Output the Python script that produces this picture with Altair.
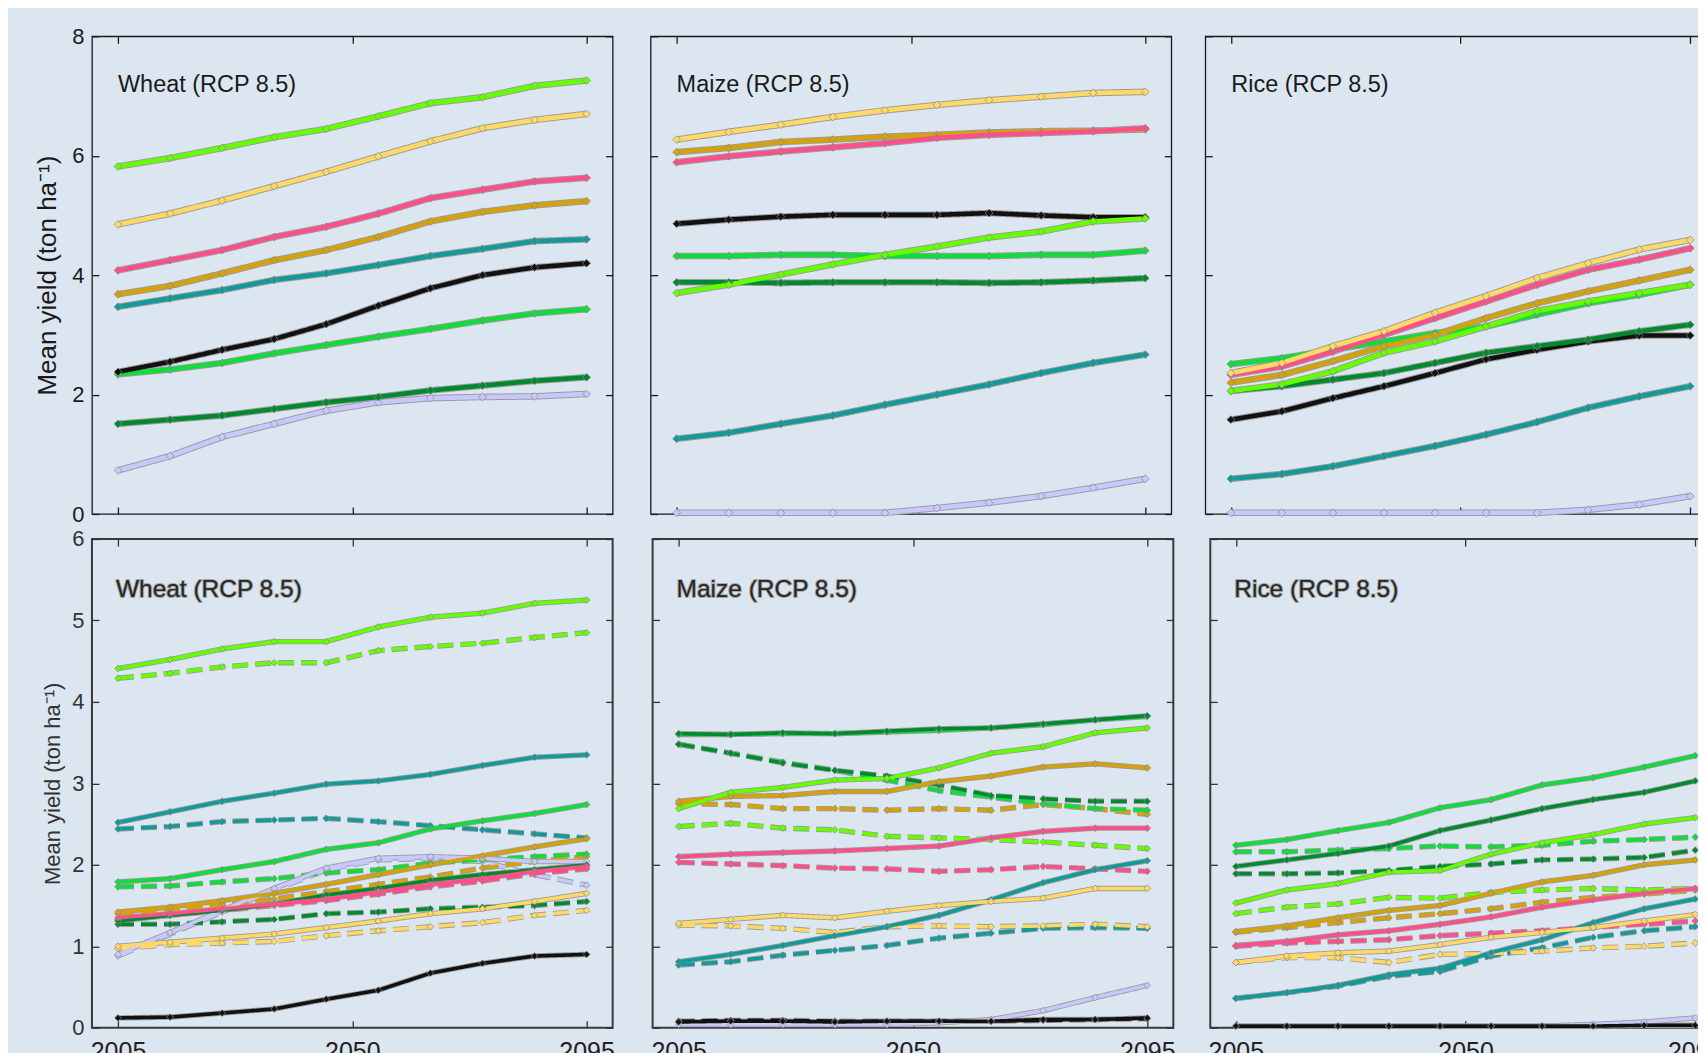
import altair as alt
import pandas as pd

FONT = "Liberation Sans"
BG = "#dbe6f0"

YEARS = [2005, 2015, 2025, 2035, 2045, 2055, 2065, 2075, 2085, 2095]
XTICKS = [2005, 2050, 2095]
YTICKS_TOP = [0, 2, 4, 6, 8]
YTICKS_BOTTOM = [0, 1, 2, 3, 4, 5, 6]
Y_TITLE = "Mean yield (ton ha⁻¹)"
PANEL_NAMES = ["Wheat (RCP 8.5)", "Maize (RCP 8.5)", "Rice (RCP 8.5)"]

COLORS = {
    "lime": "#66ff00",
    "yellow": "#ffd966",
    "pink": "#ff4f8b",
    "gold": "#d4a20c",
    "teal": "#129a9a",
    "black": "#111111",
    "green": "#10dc3c",
    "darkgreen": "#00892f",
    "lavender": "#c8c8ff",
}

# ---------------- top row (solid lines) ----------------
WHEAT_TOP = {
    "lavender": [0.73, 0.97, 1.29, 1.51, 1.73, 1.87, 1.94, 1.96, 1.97, 2.01],
    "darkgreen": [1.51, 1.58, 1.65, 1.76, 1.87, 1.96, 2.07, 2.15, 2.23, 2.29],
    "green": [2.34, 2.42, 2.53, 2.69, 2.83, 2.97, 3.10, 3.24, 3.36, 3.43],
    "black": [2.38, 2.55, 2.75, 2.93, 3.18, 3.49, 3.78, 4.00, 4.13, 4.20],
    "teal": [3.47, 3.61, 3.75, 3.92, 4.03, 4.17, 4.32, 4.44, 4.57, 4.60],
    "gold": [3.68, 3.82, 4.03, 4.25, 4.42, 4.64, 4.90, 5.06, 5.17, 5.24],
    "pink": [4.08, 4.25, 4.42, 4.64, 4.81, 5.03, 5.29, 5.43, 5.57, 5.63],
    "yellow": [4.85, 5.03, 5.25, 5.49, 5.73, 5.99, 6.24, 6.46, 6.60, 6.70],
    "lime": [5.82, 5.96, 6.13, 6.31, 6.45, 6.66, 6.88, 6.98, 7.17, 7.26],
}
MAIZE_TOP = {
    "lavender": [0.02, 0.02, 0.02, 0.02, 0.02, 0.10, 0.19, 0.30, 0.44, 0.59],
    "teal": [1.26, 1.36, 1.51, 1.65, 1.83, 2.00, 2.17, 2.36, 2.53, 2.67],
    "darkgreen": [3.88, 3.88, 3.87, 3.88, 3.88, 3.88, 3.87, 3.88, 3.91, 3.95],
    "green": [4.32, 4.32, 4.34, 4.34, 4.32, 4.32, 4.32, 4.34, 4.34, 4.41],
    "black": [4.86, 4.93, 4.98, 5.01, 5.01, 5.01, 5.04, 5.00, 4.97, 4.97],
    "lime": [3.70, 3.84, 4.01, 4.18, 4.34, 4.48, 4.63, 4.73, 4.90, 4.95],
    "gold": [6.06, 6.13, 6.23, 6.27, 6.32, 6.35, 6.39, 6.41, 6.42, 6.44],
    "pink": [5.89, 5.99, 6.07, 6.14, 6.21, 6.30, 6.35, 6.38, 6.41, 6.46],
    "yellow": [6.27, 6.40, 6.52, 6.65, 6.76, 6.85, 6.93, 6.99, 7.05, 7.07],
}
RICE_TOP = {
    "lavender": [0.02, 0.02, 0.02, 0.02, 0.02, 0.02, 0.02, 0.07, 0.16, 0.30],
    "teal": [0.59, 0.67, 0.80, 0.97, 1.14, 1.33, 1.54, 1.78, 1.97, 2.14],
    "black": [1.58, 1.72, 1.94, 2.14, 2.36, 2.59, 2.75, 2.89, 2.99, 2.99],
    "darkgreen": [2.06, 2.14, 2.25, 2.36, 2.53, 2.70, 2.81, 2.92, 3.06, 3.17],
    "green": [2.51, 2.61, 2.75, 2.89, 3.03, 3.14, 3.34, 3.53, 3.67, 3.84],
    "lime": [2.06, 2.17, 2.39, 2.70, 2.89, 3.14, 3.40, 3.56, 3.70, 3.84],
    "gold": [2.20, 2.33, 2.56, 2.81, 3.00, 3.28, 3.53, 3.73, 3.91, 4.09],
    "pink": [2.33, 2.47, 2.72, 3.00, 3.28, 3.56, 3.84, 4.09, 4.26, 4.45],
    "yellow": [2.36, 2.53, 2.81, 3.06, 3.37, 3.65, 3.95, 4.20, 4.43, 4.59],
}

# ---------------- bottom row (solid and dashed lines) ----------------
WHEAT_SOLID = {
    "lavender": [0.90, 1.17, 1.44, 1.71, 1.96, 2.08, 2.10, 2.08, 2.04, 2.04],
    "black": [0.12, 0.13, 0.18, 0.23, 0.35, 0.46, 0.67, 0.79, 0.88, 0.90],
    "yellow": [1.00, 1.05, 1.10, 1.15, 1.23, 1.31, 1.40, 1.46, 1.55, 1.65],
    "darkgreen": [1.31, 1.38, 1.44, 1.52, 1.63, 1.71, 1.81, 1.88, 1.94, 2.00],
    "pink": [1.35, 1.40, 1.46, 1.52, 1.58, 1.67, 1.76, 1.83, 1.92, 1.98],
    "gold": [1.42, 1.48, 1.56, 1.65, 1.76, 1.88, 2.00, 2.11, 2.22, 2.32],
    "green": [1.79, 1.83, 1.94, 2.04, 2.19, 2.27, 2.44, 2.54, 2.63, 2.74],
    "teal": [2.52, 2.65, 2.78, 2.88, 2.99, 3.03, 3.11, 3.22, 3.32, 3.35],
    "lime": [4.41, 4.52, 4.65, 4.74, 4.74, 4.92, 5.04, 5.09, 5.21, 5.25],
}
WHEAT_DASHED = {
    "lavender": [0.88, 1.15, 1.42, 1.69, 1.94, 2.06, 2.08, 2.04, 1.88, 1.75],
    "yellow": [0.97, 1.02, 1.04, 1.06, 1.13, 1.19, 1.24, 1.29, 1.38, 1.44],
    "darkgreen": [1.27, 1.27, 1.30, 1.33, 1.40, 1.42, 1.46, 1.48, 1.50, 1.55],
    "pink": [1.33, 1.38, 1.44, 1.50, 1.56, 1.64, 1.73, 1.80, 1.89, 1.95],
    "gold": [1.40, 1.45, 1.51, 1.58, 1.67, 1.76, 1.85, 1.96, 2.04, 2.10],
    "green": [1.73, 1.74, 1.79, 1.83, 1.90, 1.94, 2.02, 2.06, 2.10, 2.13],
    "teal": [2.44, 2.47, 2.53, 2.55, 2.57, 2.53, 2.48, 2.43, 2.38, 2.33],
    "lime": [4.29, 4.35, 4.43, 4.48, 4.48, 4.63, 4.68, 4.72, 4.79, 4.85],
}
MAIZE_SOLID = {
    "lavender": [0.04, 0.04, 0.04, 0.04, 0.04, 0.06, 0.10, 0.21, 0.37, 0.52],
    "black": [0.07, 0.08, 0.08, 0.07, 0.08, 0.08, 0.08, 0.10, 0.10, 0.12],
    "teal": [0.81, 0.90, 1.01, 1.13, 1.24, 1.38, 1.57, 1.78, 1.94, 2.05],
    "yellow": [1.28, 1.33, 1.38, 1.35, 1.43, 1.50, 1.55, 1.59, 1.71, 1.71],
    "pink": [2.10, 2.13, 2.15, 2.17, 2.20, 2.23, 2.33, 2.41, 2.45, 2.45],
    "gold": [2.78, 2.84, 2.85, 2.90, 2.90, 3.02, 3.09, 3.20, 3.24, 3.19],
    "lime": [2.69, 2.89, 2.95, 3.04, 3.06, 3.19, 3.37, 3.45, 3.62, 3.68],
    "green": [3.60, 3.60, 3.61, 3.61, 3.63, 3.65, 3.68, 3.72, 3.78, 3.82],
    "darkgreen": [3.61, 3.60, 3.62, 3.61, 3.64, 3.67, 3.68, 3.73, 3.78, 3.83],
}
MAIZE_DASHED = {
    "black": [0.08, 0.09, 0.09, 0.08, 0.08, 0.08, 0.08, 0.09, 0.10, 0.11],
    "teal": [0.77, 0.81, 0.89, 0.95, 1.01, 1.10, 1.16, 1.22, 1.23, 1.22],
    "yellow": [1.26, 1.25, 1.22, 1.17, 1.24, 1.25, 1.24, 1.25, 1.27, 1.24],
    "pink": [2.03, 2.01, 1.99, 1.96, 1.95, 1.92, 1.94, 1.98, 1.95, 1.92],
    "lime": [2.47, 2.51, 2.45, 2.43, 2.35, 2.33, 2.31, 2.28, 2.24, 2.20],
    "gold": [2.75, 2.74, 2.69, 2.69, 2.67, 2.69, 2.67, 2.74, 2.69, 2.62],
    "green": [3.48, 3.37, 3.26, 3.16, 3.04, 2.91, 2.83, 2.75, 2.69, 2.67],
    "darkgreen": [3.48, 3.37, 3.25, 3.16, 3.09, 2.98, 2.85, 2.81, 2.78, 2.78],
}
RICE_SOLID = {
    "lavender": [0.02, 0.02, 0.02, 0.02, 0.02, 0.02, 0.02, 0.04, 0.07, 0.12],
    "black": [0.02, 0.02, 0.02, 0.02, 0.02, 0.02, 0.02, 0.02, 0.03, 0.03],
    "teal": [0.36, 0.43, 0.52, 0.65, 0.73, 0.92, 1.08, 1.29, 1.46, 1.58],
    "yellow": [0.80, 0.88, 0.92, 0.94, 1.02, 1.11, 1.17, 1.23, 1.31, 1.39],
    "pink": [1.01, 1.06, 1.14, 1.19, 1.27, 1.36, 1.48, 1.57, 1.65, 1.71],
    "gold": [1.18, 1.25, 1.35, 1.44, 1.50, 1.65, 1.79, 1.87, 2.00, 2.06],
    "lime": [1.53, 1.69, 1.77, 1.91, 1.93, 2.13, 2.27, 2.37, 2.50, 2.58],
    "darkgreen": [1.98, 2.06, 2.14, 2.23, 2.42, 2.55, 2.69, 2.80, 2.89, 3.03],
    "green": [2.24, 2.31, 2.42, 2.52, 2.70, 2.80, 2.98, 3.07, 3.20, 3.34],
}
RICE_DASHED = {
    "teal": [0.36, 0.43, 0.51, 0.63, 0.69, 0.88, 0.98, 1.11, 1.19, 1.24],
    "yellow": [0.80, 0.86, 0.86, 0.80, 0.90, 0.91, 0.94, 0.98, 1.00, 1.04],
    "pink": [1.00, 1.04, 1.06, 1.08, 1.13, 1.16, 1.19, 1.23, 1.27, 1.31],
    "gold": [1.17, 1.23, 1.29, 1.35, 1.40, 1.46, 1.54, 1.60, 1.64, 1.69],
    "lime": [1.40, 1.48, 1.52, 1.60, 1.59, 1.66, 1.69, 1.71, 1.69, 1.71],
    "darkgreen": [1.89, 1.89, 1.90, 1.93, 1.98, 2.01, 2.06, 2.07, 2.09, 2.18],
    "green": [2.16, 2.16, 2.18, 2.20, 2.23, 2.22, 2.24, 2.29, 2.31, 2.34],
}


def frame(groups):
    rows = []
    for style, series in groups:
        for key, vals in series.items():
            for yr, v in zip(YEARS, vals):
                rows.append({"sid": f"{key}-{style}", "hex": COLORS[key],
                             "style": style, "year": yr, "value": v})
    return pd.DataFrame(rows)


def panel(df, label, ydom, yticks, height, col, bottom_row):
    first_col = col == 0
    last_col = col == 2
    frame_color = "#3a3a3a" if bottom_row else "#1a1a1a"
    frame_width = 2 if bottom_row else 1.3
    tick_color = "#333333" if bottom_row else "#1a1a1a"
    lw = 3.6 if bottom_row else 4.6
    ow = 5.4 if bottom_row else 6.6
    msize = 46 if bottom_row else 62
    # the right-hand column runs past the page edge; its year scale is a touch tighter
    xmax = 2102 if last_col else 2100
    xs = alt.Scale(domain=[2000, xmax], nice=False, zero=False)
    ys = alt.Scale(domain=ydom, nice=False, zero=False)
    dash = alt.StrokeDash("style:N", legend=None,
                          scale=alt.Scale(domain=["solid", "dashed"], range=[[1, 0], [16, 7]]))
    common = dict(offset=-7, tickSize=7, domain=False, grid=False,
                  tickColor=tick_color, tickWidth=1.3)

    ax_bottom = alt.Axis(orient="bottom", values=XTICKS, format="d", labels=bottom_row,
                         labelFontSize=25, labelFont=FONT, labelColor="#222222",
                         labelPadding=12, labelFlush=False, labelOverlap=False, **common)
    ax_top = alt.Axis(orient="top", values=XTICKS, labels=False, **common)
    if first_col:
        ax_left = alt.Axis(orient="left", values=yticks, format="d", labels=True,
                           labelFontSize=22, labelFont=FONT,
                           labelColor="#333333" if bottom_row else "#1a1a1a",
                           labelPadding=8, labelFlush=False, labelOverlap=False,
                           title=Y_TITLE, titleFont=FONT, titleFontWeight="normal",
                           titleFontSize=22 if bottom_row else 26,
                           titleColor="#333333" if bottom_row else "#1a1a1a",
                           titlePadding=7 if bottom_row else 11, **common)
    else:
        ax_left = alt.Axis(orient="left", values=yticks, labels=False, title=None, **common)
    ax_right = alt.Axis(orient="right", values=yticks, labels=False, title=None, **common)

    base = alt.Chart(df)
    outline = base.mark_line(strokeWidth=ow, color="#9c9c9c", strokeCap="butt",
                             strokeJoin="miter").encode(
        x=alt.X("year:Q", scale=xs, axis=None),
        y=alt.Y("value:Q", scale=ys, axis=None),
        detail="sid:N", strokeDash=dash,
    )
    lines = base.mark_line(strokeWidth=lw, strokeCap="butt", strokeJoin="miter").encode(
        x=alt.X("year:Q", scale=xs, axis=ax_bottom, title=None),
        y=alt.Y("value:Q", scale=ys, axis=ax_left),
        color=alt.Color("hex:N", scale=None),
        detail="sid:N", strokeDash=dash,
    )
    points = base.mark_point(shape="diamond", filled=True, size=msize, opacity=1,
                             stroke="#8a8a8a", strokeWidth=0.7).encode(
        x=alt.X("year:Q", scale=xs, axis=ax_top, title=None),
        y=alt.Y("value:Q", scale=ys, axis=ax_right, title=None),
        color=alt.Color("hex:N", scale=None),
    )
    layers = [outline, lines, points]
    lab_df = pd.DataFrame({"t": [label]})
    if bottom_row:
        layers.append(alt.Chart(lab_df).mark_text(
            align="left", baseline="middle", font=FONT, fontSize=24.5,
            stroke="#a8a8a8", strokeWidth=2.0, strokeJoin="round", fill="#a8a8a8",
        ).encode(text="t:N", x=alt.value(24), y=alt.value(51)))
        layers.append(alt.Chart(lab_df).mark_text(
            align="left", baseline="middle", font=FONT, fontSize=24.5, color="#262626",
        ).encode(text="t:N", x=alt.value(24), y=alt.value(51)))
    else:
        layers.append(alt.Chart(lab_df).mark_text(
            align="left", baseline="middle", font=FONT, fontSize=23.5, color="#1a1a1a",
        ).encode(text="t:N", x=alt.value(26), y=alt.value(49)))

    view = alt.ViewBackground(fill=BG, stroke=frame_color, strokeWidth=frame_width)
    return alt.layer(*layers).resolve_axis(
        x="independent", y="independent"
    ).properties(width=521, height=height, view=view)


top_frames = [frame([("solid", d)]) for d in (WHEAT_TOP, MAIZE_TOP, RICE_TOP)]
bottom_frames = [frame([("dashed", dd), ("solid", ds)]) for ds, dd in
                 ((WHEAT_SOLID, WHEAT_DASHED), (MAIZE_SOLID, MAIZE_DASHED), (RICE_SOLID, RICE_DASHED))]

top_panels = [panel(df, name, [0, 8], YTICKS_TOP, 478, i, False)
              for i, (df, name) in enumerate(zip(top_frames, PANEL_NAMES))]
bottom_panels = [panel(df, name, [0, 6], YTICKS_BOTTOM, 489, i, True)
                 for i, (df, name) in enumerate(zip(bottom_frames, PANEL_NAMES))]

top_row = alt.hconcat(top_panels[0], alt.hconcat(top_panels[1], top_panels[2], spacing=30), spacing=34)
bottom_row = alt.hconcat(bottom_panels[0], alt.hconcat(bottom_panels[1], bottom_panels[2], spacing=30), spacing=34)

# negative right padding lets the right-hand column run off the page edge, as in the original
chart = alt.vconcat(top_row, bottom_row, spacing=0).properties(
    padding={"left": 26, "top": 16, "right": -35, "bottom": 0},
    background=BG,
).configure_view(fill=BG)

chart.save("out.html", embed_options={"renderer": "svg", "actions": False})
